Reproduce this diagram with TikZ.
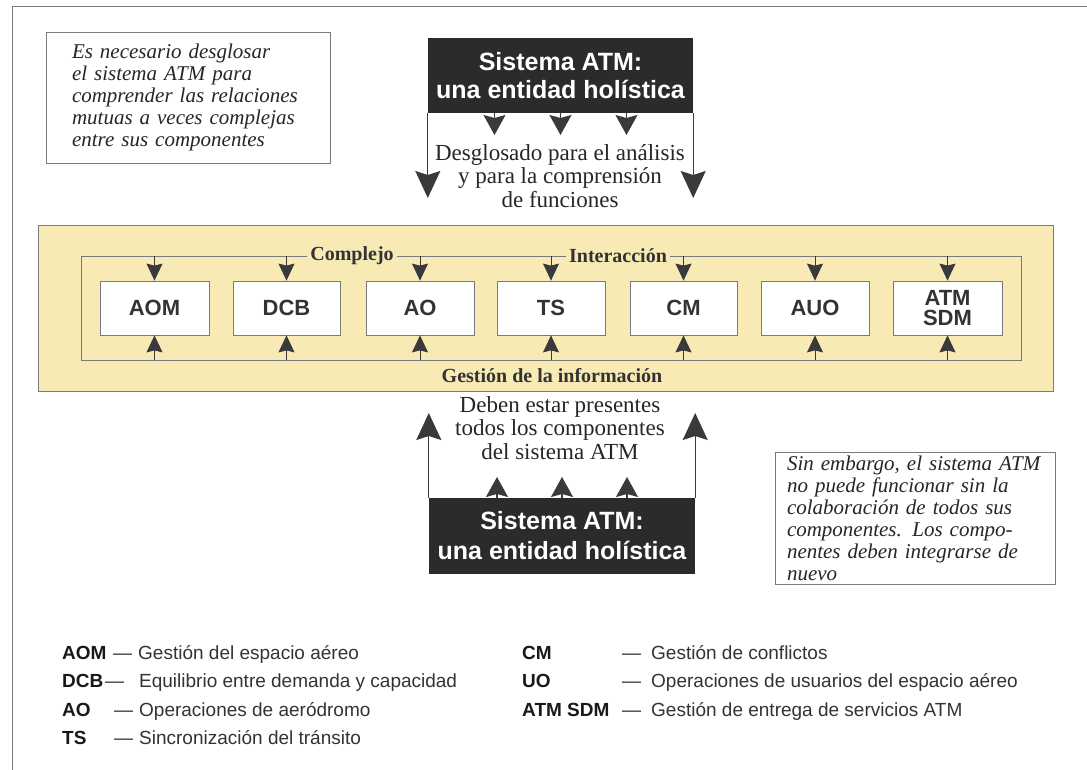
\documentclass[tikz,border=0pt]{standalone}
\usepackage{fontspec}
\setmainfont{Liberation Serif}
\setsansfont{Liberation Sans}
\usetikzlibrary{arrows.meta}
\definecolor{darkbox}{HTML}{2B2B2B}
\definecolor{arrowgray}{HTML}{3A3A3A}
\definecolor{bandyellow}{HTML}{F7EAB4}
\definecolor{linegray}{HTML}{7A7A7A}
\definecolor{labelgray}{HTML}{333333}
\tikzset{
	sysbox/.style={fill=darkbox, text=white, minimum width=265pt, minimum height=75pt, inner sep=0pt, align=center, font=\fontsize{25}{28}\selectfont\sffamily\bfseries},
	compbox/.style={draw=linegray, line width=0.8pt, fill=white, minimum width=108pt, minimum height=54pt, inner sep=0pt, align=center, text=labelgray, font=\fontsize{22}{23}\selectfont\sffamily\bfseries},
	notebox/.style={draw=linegray, line width=0.8pt, fill=white, inner sep=0pt, align=left, text=black!85, font=\fontsize{21}{22}\selectfont\itshape},
	bigarrow/.style={draw=arrowgray, fill=arrowgray, line width=1.2pt, -{Stealth[length=27pt,width=25pt,inset=4pt]}},
	midarrow/.style={draw=arrowgray, fill=arrowgray, line width=1.4pt, -{Stealth[length=20pt,width=22pt,inset=3pt]}},
	smallarrow/.style={draw=arrowgray, fill=arrowgray, line width=0.8pt, -{Stealth[length=17pt,width=16pt,inset=2pt]}},
	seriftext/.style={align=center, inner sep=0pt, text=black!85, font=\fontsize{23}{23.5}\selectfont},
	bandlabel/.style={inner xsep=3pt, inner ysep=1pt, fill=bandyellow, text=labelgray, font=\fontsize{20}{22}\selectfont\bfseries},
	legabbr/.style={anchor=base west, inner sep=0pt, text=black!90, font=\fontsize{19}{21}\selectfont\sffamily\bfseries},
	legtext/.style={anchor=base west, inner sep=0pt, text=black!80, font=\fontsize{19}{21}\selectfont\sffamily},
}

\begin{document}
\begin{tikzpicture}[x=1pt, y=-1pt]
	\useasboundingbox (0,0) rectangle (1087,770);
	% outer frame
	\draw[linegray, line width=1pt] (12,770) -- (12,7) -- (1087,7);

	% notes
	\node[notebox, minimum width=284pt, minimum height=131pt, text width=232pt] (notesplit) at (188,97.5)
		{Es necesario desglosar\\el sistema ATM para\\comprender las relaciones\\mutuas a veces complejas\\entre sus componentes};
	\node[notebox, minimum width=280pt, minimum height=132pt, text width=256pt] (notejoin) at (915,518)
		{Sin embargo, el sistema ATM\\no puede funcionar sin la\\colaboración de todos sus\\componentes. Los compo-\\nentes deben integrarse de\\nuevo};

	% top: breaking down
	\node[sysbox] (topsys) at (560.5,75.5) {Sistema ATM:\\una entidad holística};
	\coordinate (downtip) at (0,198);
	\coordinate (midtip) at (0,135);
	\draw[bigarrow] (topsys.south west) -- (topsys.south west |- downtip);
	\draw[bigarrow] (topsys.south east) -- (topsys.south east |- downtip);
	\foreach \dx in {-66,0,66}
		\draw[midarrow] ([xshift=\dx]topsys.south) -- ([xshift=\dx]topsys.south |- midtip);
	\node[seriftext] (split) at (560,176) {Desglosado para el análisis\\y para la comprensión\\de funciones};

	% components band
	\node[draw=linegray, line width=0.8pt, fill=bandyellow, minimum width=1015pt, minimum height=166pt] (band) at (545.5,308) {};
	\node[draw=linegray, line width=0.8pt, minimum width=940pt, minimum height=104pt] (frame) at (551,308) {};
	\node[bandlabel] (complejo) at (352,256) {Complejo};
	\node[bandlabel] (interaccion) at (618,256) {Interacción};
	\node[bandlabel, fill=none] (infomgmt) at (552,376) {Gestión de la información};

	\node[compbox, minimum width=109pt] (aom) at (154.5,308) {AOM};
	\node[compbox, minimum width=107pt] (dcb) at (286.5,308) {DCB};
	\node[compbox] (ao) at (420,308) {AO};
	\node[compbox] (ts) at (551,308) {TS};
	\node[compbox, minimum width=107pt] (cm) at (683.5,308) {CM};
	\node[compbox] (auo) at (815,308) {AUO};
	\node[compbox, minimum width=109pt] (atmsdm) at (947.5,308) {ATM\\[-3pt]SDM};
	\foreach \comp in {aom,dcb,ao,ts,cm,auo,atmsdm}{
		\draw[smallarrow] (\comp.north |- frame.north) -- (\comp.north);
		\draw[smallarrow] (\comp.south |- frame.south) -- (\comp.south);
	}

	% bottom: putting together
	\node[sysbox, minimum width=266pt, minimum height=76pt, font=\fontsize{25}{30}\selectfont\sffamily\bfseries] (botsys) at (562,536) {Sistema ATM:\\una entidad holística};
	\coordinate (uptip) at (0,413);
	\coordinate (upmidtip) at (0,477);
	\draw[bigarrow] (botsys.north west) -- (botsys.north west |- uptip);
	\draw[bigarrow] (botsys.north east) -- (botsys.north east |- uptip);
	\foreach \dx in {-65,0,65}
		\draw[midarrow] ([xshift=\dx]botsys.north) -- ([xshift=\dx]botsys.north |- upmidtip);
	\node[seriftext] (whole) at (560,428) {Deben estar presentes\\todos los componentes\\del sistema ATM};

	% legend
	\node[legabbr] (keyaom) at (62,659) {AOM};
	\node[legtext] (descaom) at (113,659) {\textemdash\hspace{6pt}Gestión del espacio aéreo};
	\node[legabbr] (keydcb) at (62,687) {DCB};
	\node[legtext] (descdcb) at (105,687) {\textemdash\hspace{15pt}Equilibrio entre demanda y capacidad};
	\node[legabbr] (keyao) at (62,716) {AO};
	\node[legtext] (descao) at (114,716) {\textemdash\hspace{6pt}Operaciones de aeródromo};
	\node[legabbr] (keyts) at (62,744) {TS};
	\node[legtext] (descts) at (114,744) {\textemdash\hspace{6pt}Sincronización del tránsito};
	\node[legabbr] (keycm) at (522,659) {CM};
	\node[legtext] (desccm) at (622,659) {\textemdash\hspace{10pt}Gestión de conflictos};
	\node[legabbr] (keyuo) at (522,687) {UO};
	\node[legtext] (descuo) at (622,687) {\textemdash\hspace{10pt}Operaciones de usuarios del espacio aéreo};
	\node[legabbr] (keysdm) at (522,716) {ATM SDM};
	\node[legtext] (descsdm) at (622,716) {\textemdash\hspace{10pt}Gestión de entrega de servicios ATM};
\end{tikzpicture}
\end{document}
